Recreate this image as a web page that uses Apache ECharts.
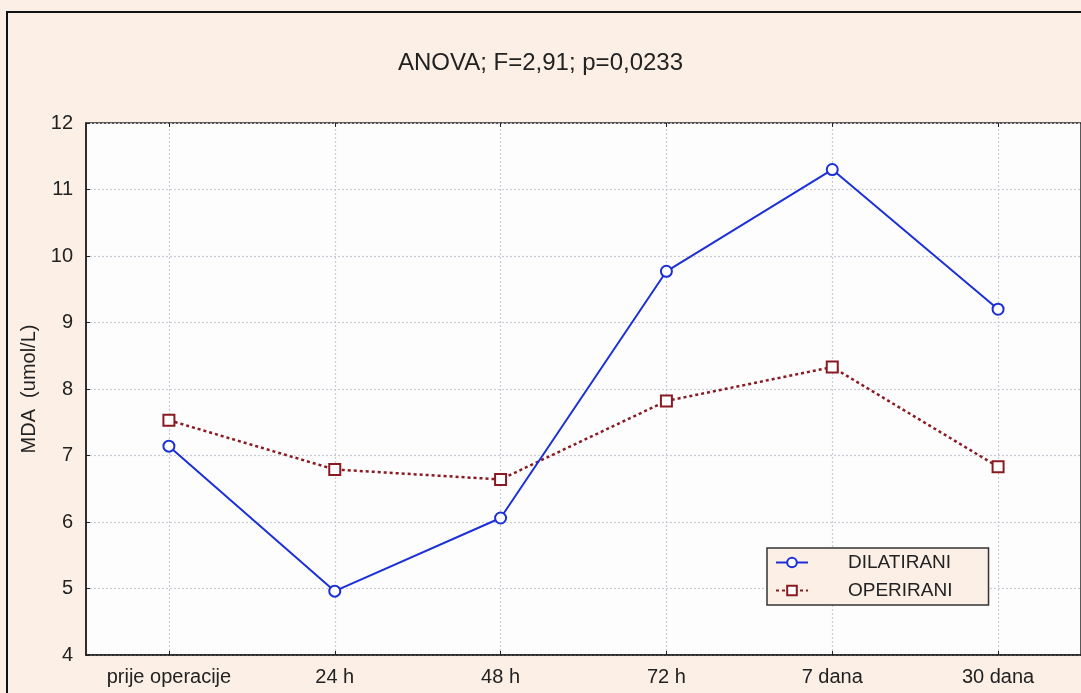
<!DOCTYPE html>
<html><head><meta charset="utf-8">
<script src="https://cdn.jsdelivr.net/npm/echarts@6/dist/echarts.min.js"></script>
<style>html,body{margin:0;padding:0;background:#fbefe6}#c{width:1081px;height:693px}</style>
</head><body><div id="c"></div>
<script>
const categories = ['prije operacije', '24 h', '48 h', '72 h', '7 dana', '30 dana'];
const dilatirani = [7.14, 4.96, 6.06, 9.77, 11.30, 9.20];
const operirani = [7.53, 6.79, 6.64, 7.82, 8.33, 6.83];
const seriesNames = ['DILATIRANI', 'OPERIRANI'];
const titleText = 'ANOVA; F=2,91; p=0,0233';
const yName = 'MDA  (umol/L)';

const FONT = '"Liberation Sans", Arial, sans-serif';
const chart = echarts.init(document.getElementById('c'), null, {renderer: 'canvas'});
const vlines = categories.map(c => ({xAxis: c}));
chart.setOption({
  backgroundColor: '#fbefe6',
  animation: false,
  title: {text: titleText, left: 'center', top: 46,
    textStyle: {fontFamily: FONT, fontSize: 24, fontWeight: 'normal', color: '#222'}},
  grid: {left: 86, right: -3, top: 123, bottom: 38, show: true, backgroundColor: '#fdfdfd',
    borderColor: '#222', borderWidth: 1.5},
  legend: {
    orient: 'vertical', left: 767, top: 548, itemWidth: 32, itemHeight: 12, itemGap: 9,
    backgroundColor: '#fbefe6', borderColor: '#333', borderWidth: 1.5,
    padding: [5, 36, 5, 8],
    textStyle: {fontFamily: FONT, fontSize: 19, color: '#222', padding: [0, 0, 0, 35]},
    data: seriesNames
  },
  xAxis: [{
    type: 'category', data: categories, boundaryGap: true,
    axisLine: {lineStyle: {color: '#222', width: 1.5}},
    axisTick: {show: true, inside: true, alignWithLabel: true, length: 4, lineStyle: {color: '#222'}},
    axisLabel: {fontFamily: FONT, fontSize: 20, color: '#222', margin: 12},
    splitLine: {show: false}
  }, {
    type: 'category', data: categories, boundaryGap: true, position: 'top',
    axisLine: {show: false},
    axisTick: {show: true, inside: true, alignWithLabel: true, length: 4, lineStyle: {color: '#222'}},
    axisLabel: {show: false}, splitLine: {show: false}
  }],
  yAxis: {
    type: 'value', min: 4, max: 12, interval: 1,
    name: yName, nameLocation: 'middle', nameGap: 40, nameRotate: 90,
    nameTextStyle: {fontFamily: FONT, fontSize: 20, color: '#222'},
    axisLine: {show: true, lineStyle: {color: '#222', width: 1.5}},
    axisTick: {show: true, inside: true, length: 4, lineStyle: {color: '#222'}},
    axisLabel: {fontFamily: FONT, fontSize: 20, color: '#222', margin: 13},
    splitLine: {show: true, lineStyle: {color: '#c8ccd6', type: [2, 2], width: 1.2}}
  },
  graphic: [{type: 'rect', shape: {x: 7, y: 12, width: 1100, height: 700},
    style: {fill: 'none', stroke: '#111', lineWidth: 2}, z: 100}],
  series: [{
    name: seriesNames[0], type: 'line', data: dilatirani,
    symbol: 'circle', symbolSize: 11, showAllSymbol: true,
    itemStyle: {color: '#fff', borderColor: '#1c30d8', borderWidth: 2},
    lineStyle: {color: '#1c30d8', width: 2},
    markLine: {silent: true, symbol: 'none', label: {show: false},
      lineStyle: {color: '#c8ccd6', type: [2, 2], width: 1.2}, data: vlines, z: 0},
    z: 3
  }, {
    name: seriesNames[1], type: 'line', data: operirani,
    symbol: 'rect', symbolSize: 11,
    itemStyle: {color: '#fff', borderColor: '#8a1a22', borderWidth: 2},
    lineStyle: {color: '#8a1a22', width: 2.5, type: [3, 3]},
    z: 2
  }]
});
</script></body></html>
